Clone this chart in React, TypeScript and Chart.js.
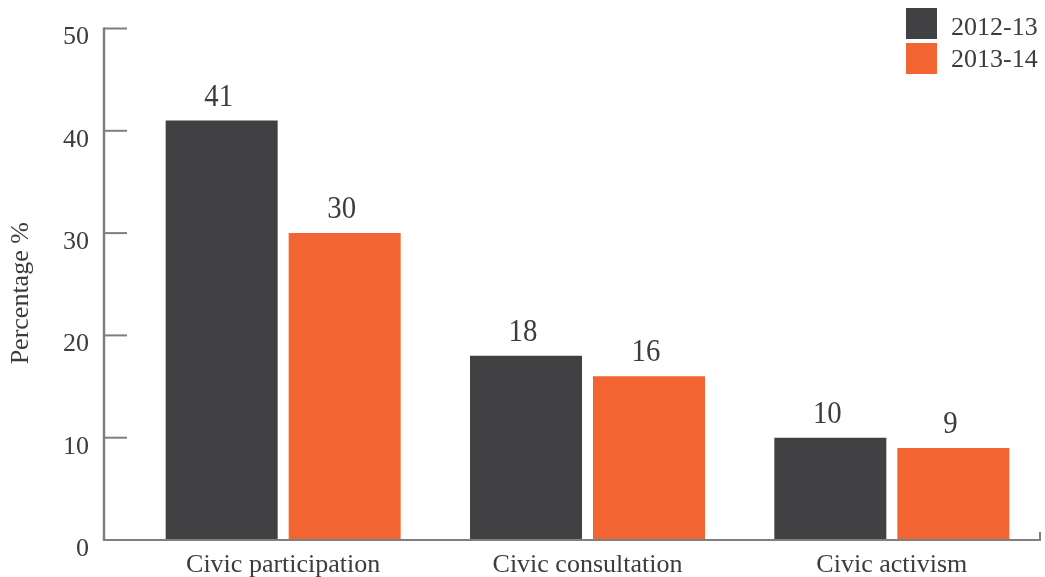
import React, { useEffect, useRef } from 'react';
import { Chart, registerables } from 'chart.js';

Chart.register(...registerables);

const categories = ['Civic participation', 'Civic consultation', 'Civic activism'];
const seriesLabels = ['2012-13', '2013-14'];
const values2012 = [41, 18, 10];
const values2013 = [30, 16, 9];
const yTickValues = [0, 10, 20, 30, 40, 50];
const yTitle = 'Percentage %';

const FONT = '"Liberation Serif", "Times New Roman", Times, serif';
const TEXT = '#3c3c3c';
const AXIS = '#7f7f7f';
const COLORS = ['#414042', '#F26532'];

const decorPlugin = {
  id: 'decor',
  afterDatasetsDraw(chart: any) {
    const ctx = chart.ctx;
    const y = chart.scales.y;
    const area = chart.chartArea;
    const axisX = area.left - 27;
    const axisRight = area.right - 4;
    const y0 = y.getPixelForValue(0);
    const yTop = y.getPixelForValue(yTickValues[yTickValues.length - 1]);
    ctx.save();
    ctx.strokeStyle = AXIS;
    ctx.lineCap = 'butt';
    // y axis line
    ctx.lineWidth = 2.5;
    ctx.beginPath();
    ctx.moveTo(axisX, yTop - 1);
    ctx.lineTo(axisX, y0 + 1);
    ctx.stroke();
    // ticks pointing right
    ctx.lineWidth = 2;
    yTickValues.forEach((v) => {
      const py = y.getPixelForValue(v);
      ctx.beginPath();
      ctx.moveTo(axisX, py);
      ctx.lineTo(axisX + 23, py);
      ctx.stroke();
    });
    // x axis line
    ctx.lineWidth = 2;
    ctx.beginPath();
    ctx.moveTo(axisX, y0);
    ctx.lineTo(axisRight, y0);
    ctx.lineTo(axisRight, y0 - 8);
    ctx.stroke();

    // y axis title
    ctx.fillStyle = TEXT;
    ctx.font = `26px ${FONT}`;
    ctx.textAlign = 'center';
    ctx.textBaseline = 'middle';
    ctx.save();
    ctx.translate(21.5, (area.top + area.bottom) / 2 + 9);
    ctx.rotate(-Math.PI / 2);
    ctx.fillText(yTitle, 0, 0);
    ctx.restore();

    // data labels
    ctx.fillStyle = TEXT;
    ctx.font = `32px ${FONT}`;
    ctx.textAlign = 'center';
    ctx.textBaseline = 'alphabetic';
    chart.data.datasets.forEach((ds: any, di: number) => {
      const meta = chart.getDatasetMeta(di);
      meta.data.forEach((el: any, i: number) => {
        ctx.save();
        ctx.translate(el.x - 3, el.y - 15);
        ctx.scale(0.9, 1);
        ctx.fillText(String(ds.data[i]), 0, 0);
        ctx.restore();
      });
    });

    // legend
    ctx.font = `26px ${FONT}`;
    ctx.textAlign = 'left';
    chart.data.datasets.forEach((ds: any, di: number) => {
      const top = 8 + di * 35;
      ctx.fillStyle = ds.backgroundColor;
      ctx.fillRect(906, top, 31, 31);
      ctx.fillStyle = TEXT;
      ctx.fillText(ds.label, 951, 35 + di * 31.5);
    });
    ctx.restore();
  },
};

export default function App() {
  const ref = useRef<HTMLCanvasElement>(null);
  useEffect(() => {
    if (!ref.current) return;
    const chart = new Chart(ref.current, {
      type: 'bar',
      data: {
        labels: categories,
        datasets: [
          { label: seriesLabels[0], data: values2012, backgroundColor: COLORS[0] },
          { label: seriesLabels[1], data: values2013, backgroundColor: COLORS[1] },
        ],
      },
      options: {
        responsive: false,
        animation: false,
        devicePixelRatio: 1,
        layout: { padding: { left: 0, right: 1, top: 28.5, bottom: 0 } },
        plugins: { legend: { display: false }, tooltip: { enabled: false } },
        datasets: { bar: { categoryPercentage: 0.8083, barPercentage: 0.9106 } },
        scales: {
          x: {
            grid: { display: false, drawTicks: false },
            border: { display: false },
            ticks: {
              color: TEXT,
              padding: 10,
              font: { family: FONT, size: 26, lineHeight: 1.2 },
              maxRotation: 0,
            },
            afterFit(scale: any) {
              scale.height = 37;
              scale.paddingLeft = 0;
              scale.paddingRight = 0;
            },
          },
          y: {
            min: 0,
            max: 50,
            grid: { display: false, drawTicks: false },
            border: { display: false },
            ticks: {
              stepSize: 10,
              padding: 42,
              labelOffset: 9,
              color: TEXT,
              font: { family: FONT, size: 26, lineHeight: 1.2 },
            },
            afterFit(scale: any) {
              scale.width = 131;
              scale.paddingTop = 0;
              scale.paddingBottom = 0;
            },
          },
        },
      },
      plugins: [decorPlugin],
    } as any);
    return () => chart.destroy();
  }, []);
  return (
    <div style={{ position: 'absolute', left: 0, top: 0, width: 1045, height: 577 }}>
      <canvas ref={ref} width={1045} height={577} style={{ display: 'block' }} />
    </div>
  );
}
